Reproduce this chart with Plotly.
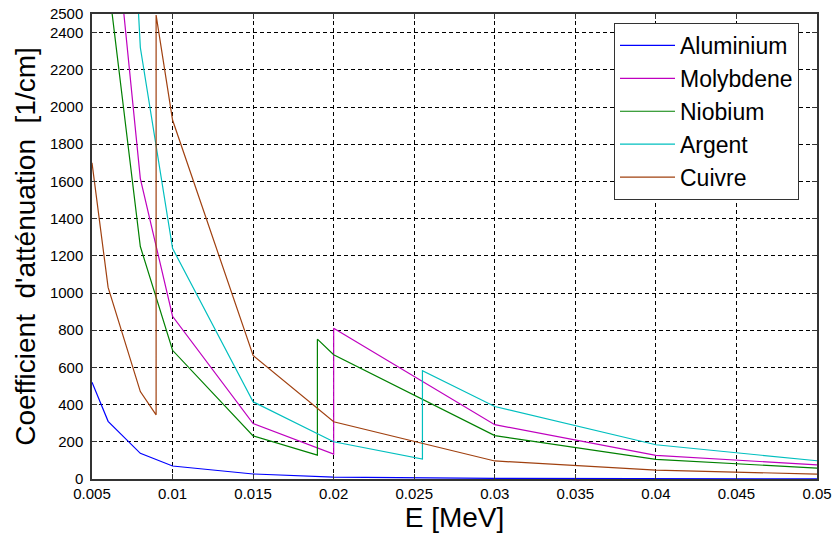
import plotly.graph_objects as go

# Energies (MeV) and linear attenuation coefficients (1/cm)
al_E = [0.005, 0.006, 0.008, 0.01, 0.015, 0.02, 0.03, 0.04, 0.05]
al_mu = [520, 310, 138, 70, 27, 10, 3.2, 1.6, 1.0]

mo_E = [0.005, 0.006, 0.008, 0.01, 0.015, 0.02, 0.02, 0.03, 0.04, 0.05]
mo_mu = [5600, 3350, 1615, 875, 298, 134, 811, 292, 127, 76]

nb_E = [0.005, 0.006, 0.008, 0.01, 0.015, 0.01899, 0.01899, 0.02, 0.03, 0.04, 0.05]
nb_mu = [4400, 2680, 1250, 692, 232, 128, 752, 668, 233, 106, 58]

ag_E = [0.005, 0.006, 0.008, 0.01, 0.015, 0.02, 0.02551, 0.02551, 0.03, 0.04, 0.05]
ag_mu = [9500, 5600, 2320, 1240, 415, 200, 107, 582, 390, 184, 98]

cu_E = [0.005, 0.006, 0.008, 0.008979, 0.008979, 0.01, 0.015, 0.02, 0.03, 0.04, 0.05]
cu_mu = [1700, 1030, 470, 345, 2494, 1930, 664, 308, 97, 48, 26]

names = ["Aluminium", "Molybdene", "Niobium", "Argent", "Cuivre"]
colors = ["#0000FF", "#BF00BF", "#008000", "#00BFBF", "#A0400F"]

x_ticks = [0.005, 0.01, 0.015, 0.02, 0.025, 0.03, 0.035, 0.04, 0.045, 0.05]
x_labels = ["0.005", "0.01", "0.015", "0.02", "0.025", "0.03", "0.035", "0.04", "0.045", "0.05"]
y_ticks = [0, 200, 400, 600, 800, 1000, 1200, 1400, 1600, 1800, 2000, 2200, 2400, 2500]

series = [(al_E, al_mu), (mo_E, mo_mu), (nb_E, nb_mu), (ag_E, ag_mu), (cu_E, cu_mu)]

FONT = "Liberation Sans, Arial, sans-serif"

fig = go.Figure()
for (xs, ys), name, col in zip(series, names, colors):
    fig.add_trace(go.Scatter(x=xs, y=ys, mode="lines", name=name,
                             line=dict(color=col, width=1.2)))

axis_common = dict(
    showline=True, linecolor="#333333", linewidth=1.5, mirror="ticks",
    ticks="inside", ticklen=5, tickcolor="#333333",
    showgrid=True, gridcolor="black", gridwidth=1, griddash="4px,3px",
    zeroline=False, automargin=False, ticklabeloverflow="allow",
    tickfont=dict(family=FONT, size=15, color="black"),
)

fig.update_layout(
    width=832, height=539,
    margin=dict(l=92, r=15, t=14, b=60),
    paper_bgcolor="white", plot_bgcolor="white",
    font=dict(family=FONT, color="black"),
    xaxis=dict(range=[0.005, 0.05], tickvals=x_ticks, ticktext=x_labels,
               title=dict(text="E [MeV]", font=dict(family=FONT, size=28), standoff=4),
               **axis_common),
    yaxis=dict(range=[0, 2500], tickvals=y_ticks, ticklabelstandoff=4,
               title=dict(text="Coefficient\u00a0\u00a0d'atténuation\u00a0\u00a0[1/cm]",
                          font=dict(family=FONT, size=28), standoff=6),
               **axis_common),
    legend=dict(x=0.72, xanchor="left", y=0.9806, yanchor="top",
                bgcolor="white", bordercolor="#333333", borderwidth=1,
                font=dict(family=FONT, size=23, color="black"),
                itemwidth=55),
    showlegend=True,
)

# remove the browser's default body margin so the figure fills the window exactly
fig.write_html("out.html", config={"displayModeBar": False},
               post_script="document.body.style.margin='0px';")
